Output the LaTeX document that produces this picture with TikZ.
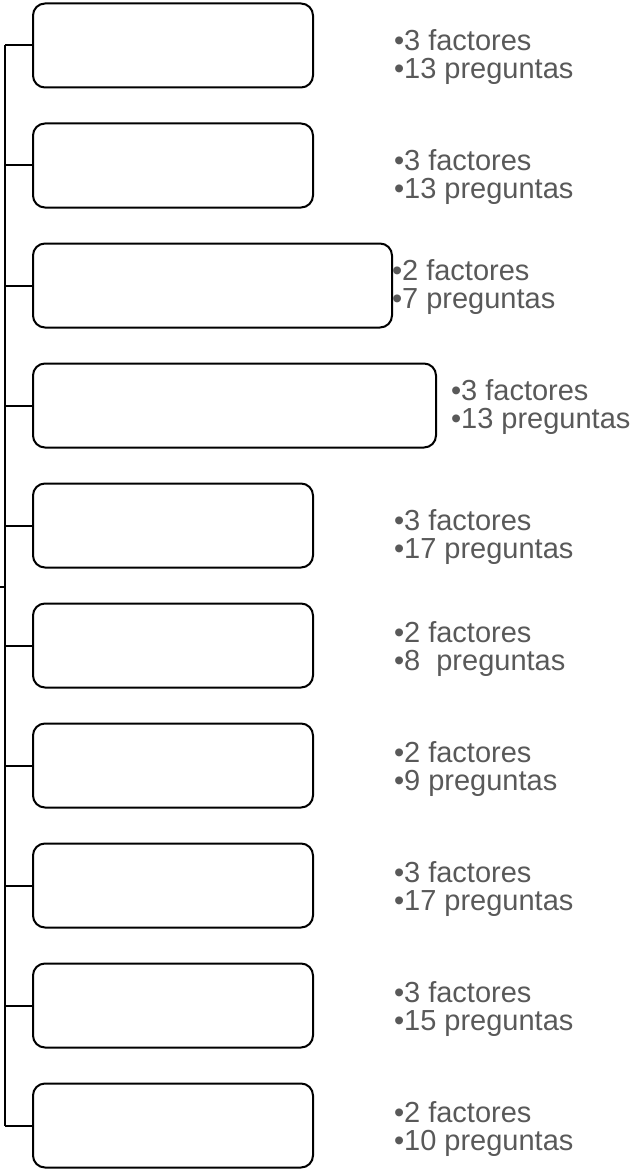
\documentclass[tikz,border=0pt]{standalone}
\usepackage{fontspec}
\setmainfont{Liberation Sans}
\definecolor{txtgray}{HTML}{595959}
\begin{document}
\begin{tikzpicture}[x=1pt,y=-1pt,
  box/.style={draw=black,line width=2pt,rounded corners=12pt,inner sep=0pt,outer sep=0pt,
    minimum height=84pt,anchor=north west},
  conn/.style={draw=black,line width=2pt},
  lbl/.style={anchor=base west,inner sep=0pt,outer sep=0pt,text=txtgray,
    font=\fontsize{29}{34}\selectfont}]
\useasboundingbox (0,0) rectangle (633,1169);
% boxes
\node[box,minimum width=280pt] (b1) at (33,3.5) {};
\node[box,minimum width=280pt] (b2) at (33,123.5) {};
\node[box,minimum width=359pt] (b3) at (33,243.5) {};
\node[box,minimum width=403pt] (b4) at (33,363.5) {};
\node[box,minimum width=280pt] (b5) at (33,483.5) {};
\node[box,minimum width=280pt] (b6) at (33,603.5) {};
\node[box,minimum width=280pt] (b7) at (33,723.5) {};
\node[box,minimum width=280pt] (b8) at (33,843.5) {};
\node[box,minimum width=280pt] (b9) at (33,963.5) {};
\node[box,minimum width=280pt] (b10) at (33,1083.5) {};
% trunk
\coordinate (tr) at (5,0);
\coordinate (st) at (0,587);
\draw[conn] (b1.west -| tr) -- (b10.west -| tr);
\draw[conn] (st) -- (st -| tr);
\foreach \k in {1,...,10}{
  \draw[conn] (b\k.west) -- (b\k.west -| tr);
}
% labels
\node[lbl] (t1a) at (394,50.5) {•3 factores};
\node[lbl] (t1b) at (394,78.5) {•13 preguntas};
\node[lbl] (t2a) at (394,170.5) {•3 factores};
\node[lbl] (t2b) at (394,198.5) {•13 preguntas};
\node[lbl] (t3a) at (392,280.5) {•2 factores};
\node[lbl] (t3b) at (392,308.5) {•7 preguntas};
\node[lbl] (t4a) at (451,400.5) {•3 factores};
\node[lbl] (t4b) at (451,428.5) {•13 preguntas};
\node[lbl] (t5a) at (394,530.5) {•3 factores};
\node[lbl] (t5b) at (394,558.5) {•17 preguntas};
\node[lbl] (t6a) at (394,642.5) {•2 factores};
\node[lbl] (t6b) at (394,670.5) {•8\ \ preguntas};
\node[lbl] (t7a) at (394,762.5) {•2 factores};
\node[lbl] (t7b) at (394,790.5) {•9 preguntas};
\node[lbl] (t8a) at (394,882.5) {•3 factores};
\node[lbl] (t8b) at (394,910.5) {•17 preguntas};
\node[lbl] (t9a) at (394,1002.5) {•3 factores};
\node[lbl] (t9b) at (394,1030.5) {•15 preguntas};
\node[lbl] (t10a) at (394,1122.5) {•2 factores};
\node[lbl] (t10b) at (394,1150.5) {•10 preguntas};
\end{tikzpicture}
\end{document}
